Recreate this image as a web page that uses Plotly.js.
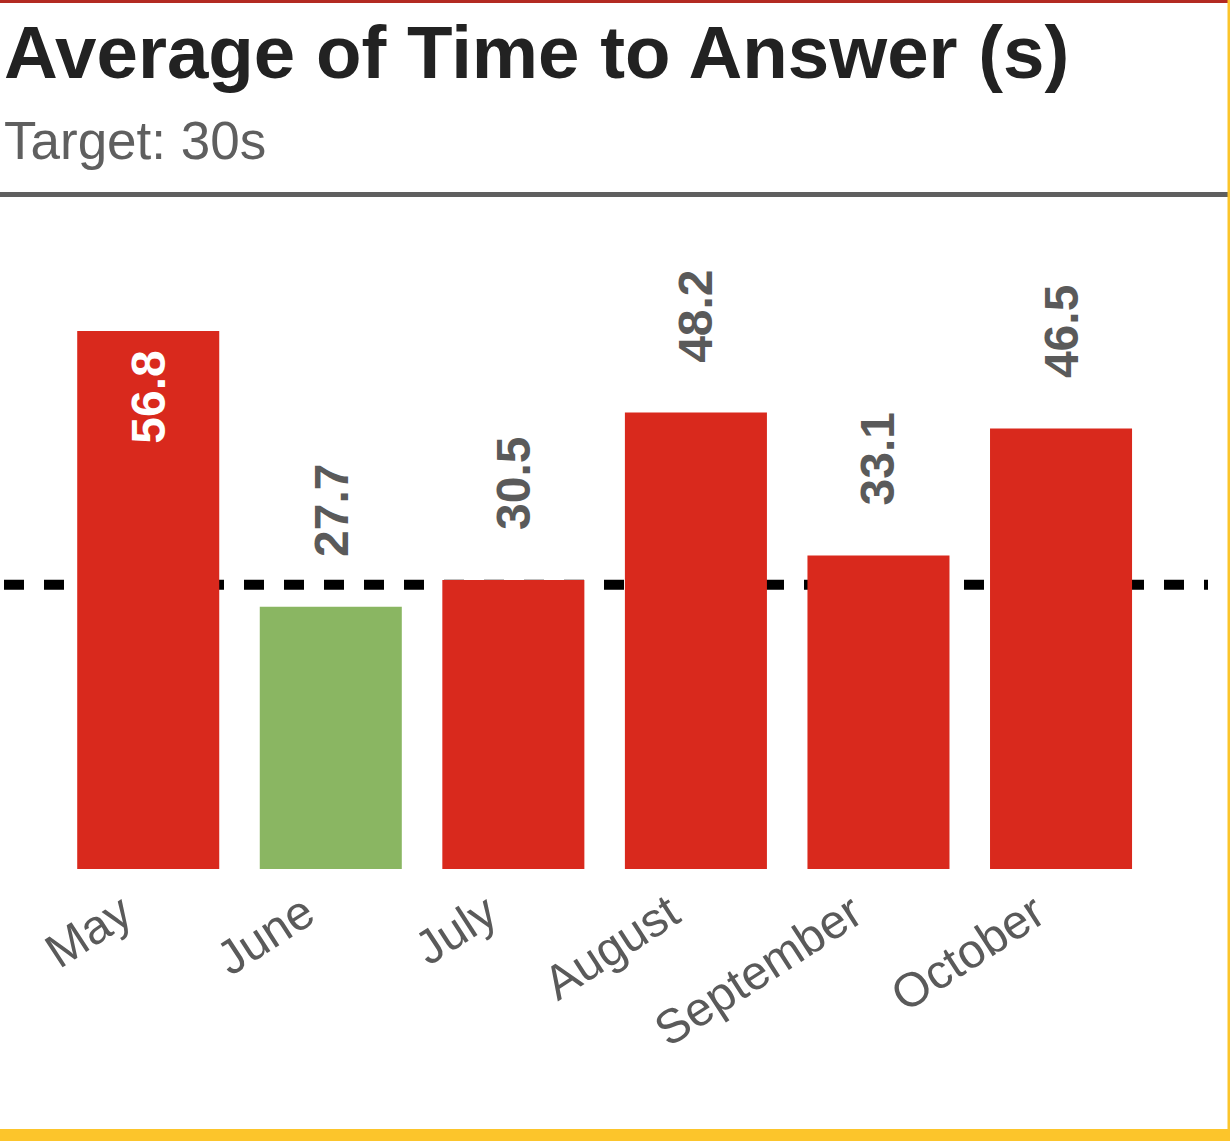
<!DOCTYPE html>
<html>
<head>
<meta charset="utf-8">
<script src="https://cdn.plot.ly/plotly-3.0.1.min.js"></script>
<style>
  html, body { margin: 0; padding: 0; background: #ffffff; }
  #chart { width: 1230px; height: 1141px; }
</style>
</head>
<body>
<div id="chart"></div>
<script>
const months = ["May", "June", "July", "August", "September", "October"];
const avgTime = [56.8, 27.7, 30.5, 48.2, 33.1, 46.5];
const target = 30;
const titleText = "Average of Time to Answer (s)";
const subtitleText = "Target: 30s";

const RED = "#d9291d";
const GREEN = "#8ab662";
const GRAY = "#5a5a5a";
const FONT = "Liberation Sans, Arial, Helvetica, sans-serif";

const barColors = avgTime.map(v => v <= target ? GREEN : RED);

const W = 1230, H = 1141;
const mL = 4, mR = 22, mT = 200, mB = 272;
const plotW = W - mL - mR, plotH = H - mT - mB;
// pixel -> paper helpers for decorations
const px = X => (X - mL) / plotW;
const py = Y => (H - mB - Y) / plotH;

const yMax = 70.63;

const valueAnnotations = avgTime.map((v, i) => {
  const inside = v > 55;
  return {
    x: months[i], y: v, xref: "x", yref: "y",
    text: v.toFixed(1),
    showarrow: false,
    textangle: -90,
    xanchor: "center",
    yanchor: inside ? "top" : "bottom",
    yshift: inside ? -18 : 48,
    font: { family: FONT, size: 48, color: inside ? "#ffffff" : GRAY, weight: "bold" }
  };
});

const data = [{
  type: "bar",
  x: months,
  y: avgTime,
  marker: { color: barColors, line: { width: 0 } },
  width: 0.778,
  hoverinfo: "x+y"
}];

const layout = {
  width: W, height: H,
  margin: { l: mL, r: mR, t: mT, b: mB, pad: 0 },
  paper_bgcolor: "#ffffff",
  plot_bgcolor: "#ffffff",
  showlegend: false,
  font: { family: FONT, color: GRAY },
  xaxis: {
    type: "category",
    range: [-0.79, 5.805],
    tickangle: -33,
    tickfont: { family: FONT, size: 48, color: GRAY },
    ticklabelshift: -26,
    ticklabelstandoff: 6,
    showgrid: false, zeroline: false, showline: false,
    ticks: "", ticklen: 0
  },
  yaxis: {
    range: [0, yMax],
    visible: false,
    showgrid: false, zeroline: false
  },
  shapes: [
    { type: "line", xref: "paper", yref: "y", x0: 0, x1: 1, y0: target, y1: target,
      layer: "below", line: { color: "#000000", width: 10, dash: "20px,20px" } },
    { type: "rect", xref: "paper", yref: "paper", x0: px(0), x1: px(1230), y0: py(0), y1: py(3),
      fillcolor: "#b32a22", line: { width: 0 } },
    { type: "rect", xref: "paper", yref: "paper", x0: px(0), x1: px(1228), y0: py(192), y1: py(197),
      fillcolor: "#5f5f5f", line: { width: 0 } },
    { type: "rect", xref: "paper", yref: "paper", x0: px(1227.5), x1: px(1230), y0: py(0), y1: py(1141),
      fillcolor: "#fcc52b", line: { width: 0 } },
    { type: "rect", xref: "paper", yref: "paper", x0: px(0), x1: px(1230), y0: py(1129), y1: py(1141),
      fillcolor: "#fcc52b", line: { width: 0 } }
  ],
  annotations: [
    { xref: "paper", yref: "paper", x: px(2), y: py(9), xanchor: "left", yanchor: "top",
      showarrow: false, text: titleText,
      font: { family: FONT, size: 74.5, color: "#222222", weight: "bold" } },
    { xref: "paper", yref: "paper", x: px(2), y: py(109), xanchor: "left", yanchor: "top",
      showarrow: false, text: subtitleText,
      font: { family: FONT, size: 53, color: "#5f5f5f" } }
  ].concat(valueAnnotations)
};

Plotly.newPlot("chart", data, layout, { displayModeBar: false, staticPlot: true });
</script>
</body>
</html>
